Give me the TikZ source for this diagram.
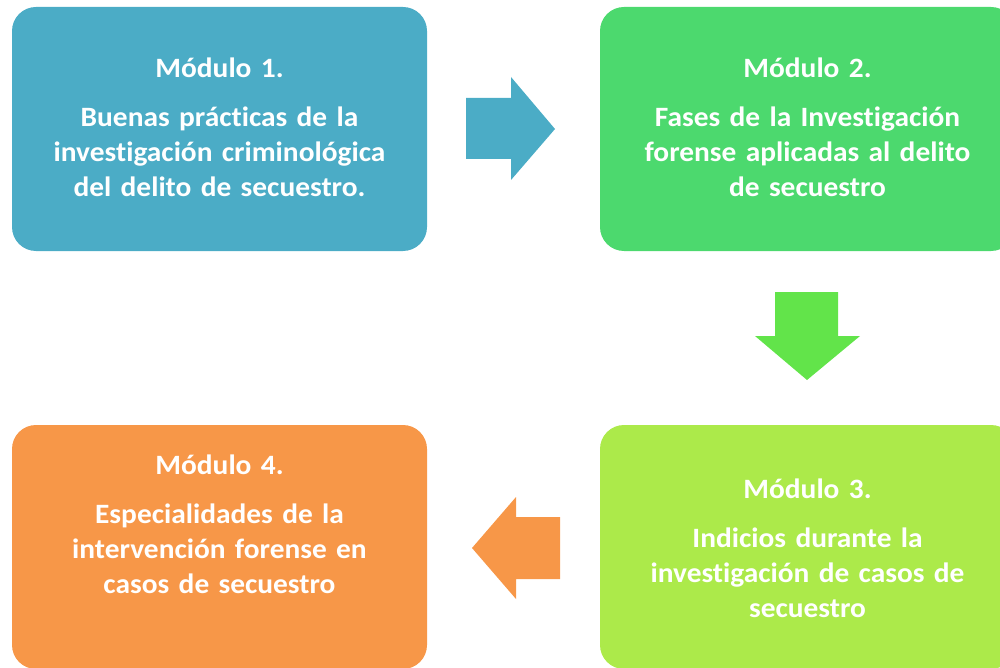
\documentclass[tikz,border=0pt]{standalone}
\usepackage{fontspec}
\setmainfont{Carlito}[FakeStretch=1.05, WordSpace=0.8, Ligatures=NoCommon]
\usetikzlibrary{positioning}

\definecolor{modblue}{RGB}{75,172,198}
\definecolor{modgreen}{RGB}{76,217,110}
\definecolor{arrgreen}{RGB}{98,228,74}
\definecolor{modlime}{RGB}{172,234,74}
\definecolor{modorange}{RGB}{247,151,72}

\tikzset{every picture/.style={line width=0.75pt},
  modbox/.style={rounded corners=24, minimum width=415, minimum height=244, inner sep=0},
  modtext/.style={text=white, font=\fontsize{28}{35}\selectfont\bfseries, align=center, text width=410, inner sep=0}}

\begin{document}
\begin{tikzpicture}[x=1pt,y=1pt,yscale=-1,xscale=1]
	\useasboundingbox (0,0) rectangle (1000,668);

	%Shape: Rounded Rect [id:m1]
	\node [modbox, fill=modblue] (m1) at (219.5,129) {};
	%Shape: Rounded Rect [id:m2]
	\node [modbox, fill=modgreen] (m2) at (807.5,129) {};
	%Shape: Rounded Rect [id:m3]
	\node [modbox, fill=modlime] (m3) at (807.5,547) {};
	%Shape: Rounded Rect [id:m4]
	\node [modbox, fill=modorange] (m4) at (219.5,547) {};

	%Shape: Right Arrow [id:a12]
	\fill [modblue] (466,98) -- (511,98) -- (511,77) -- (555,129) -- (511,180) -- (511,159) -- (466,159) -- cycle ;
	%Shape: Down Arrow [id:a23]
	\fill [arrgreen] (775,292) -- (838,292) -- (838,336) -- (860,336) -- (807,380) -- (755,336) -- (775,336) -- cycle ;
	%Shape: Left Arrow [id:a34]
	\fill [modorange] (560,517) -- (516,517) -- (516,497) -- (472,548) -- (516,599) -- (516,579) -- (560,579) -- cycle ;

	% Text Node
	\node [modtext, anchor=base] (t1) at (219.5,78) {Módulo 1.\\[14pt]Buenas prácticas de la\\investigación criminológica\\del delito de secuestro.};
	% Text Node
	\node [modtext, anchor=base] (t2) at (807.5,78) {Módulo 2.\\[14pt]Fases de la Investigación\\forense aplicadas al delito\\de secuestro};
	% Text Node
	\node [modtext, anchor=base] (t3) at (807.5,498) {Módulo 3.\\[14pt]Indicios durante la\\investigación de casos de\\secuestro};
	% Text Node
	\node [modtext, anchor=base] (t4) at (219.5,474) {Módulo 4.\\[14pt]Especialidades de la\\intervención forense en\\casos de secuestro};

\end{tikzpicture}
\end{document}
